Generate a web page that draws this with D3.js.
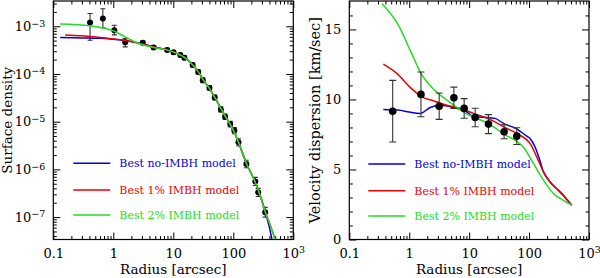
<!DOCTYPE html>
<html>
<head>
<meta charset="utf-8">
<script src="https://cdn.jsdelivr.net/npm/d3@7/dist/d3.min.js"></script>
<style>
  html, body { margin: 0; padding: 0; background: #fff; }
  svg { display: block; font-family: "DejaVu Serif", serif; }
</style>
</head>
<body>
<div id="chart"></div>
<script>
// surface density data (left panel)
const sdRadius = [0.41, 0.67, 1.04, 1.58, 3.1, 4.7, 7.9, 10.1, 13.1, 15.3, 21, 26, 31, 40, 49, 62, 73, 89, 104, 122, 165, 233, 260, 340];
const sdValue  = [1.2e-3, 1.46e-3, 8.3e-4, 4.6e-4, 4.5e-4, 3.6e-4, 3.2e-4, 2.85e-4, 2.5e-4, 2.2e-4, 1.54e-4, 1.1e-4, 7.4e-5, 5.1e-5, 3.2e-5, 1.8e-5, 1.27e-5, 8.9e-6, 6.5e-6, 3.7e-6, 1.29e-6, 5.6e-7, 3.3e-7, 1.26e-7];
const sdLow    = [5.1e-4, 9.3e-4, 6.6e-4, 3.7e-4, 4.1e-4, 3.3e-4, 2.95e-4, 2.6e-4, 2.3e-4, 2.0e-4, 1.4e-4, 1.0e-4, 6.6e-5, 4.6e-5, 2.85e-5, 1.6e-5, 1.12e-5, 7.8e-6, 5.6e-6, 3.1e-6, 1.08e-6, 4.6e-7, 2.7e-7, 1.0e-7];
const sdHigh   = [1.86e-3, 2.33e-3, 1.05e-3, 5.5e-4, 4.9e-4, 3.9e-4, 3.45e-4, 3.1e-4, 2.7e-4, 2.4e-4, 1.7e-4, 1.22e-4, 8.3e-5, 5.7e-5, 3.6e-5, 2.05e-5, 1.45e-5, 1.02e-5, 7.5e-6, 4.4e-6, 1.55e-6, 6.8e-7, 4.0e-7, 1.6e-7];

// surface density models
const sdNoImbhR = [0.13, 0.3, 0.61, 1.0, 1.69, 3.1, 4.7, 7.9, 10, 13, 16, 21, 26, 31, 40, 50, 62, 75, 90, 104, 120, 165, 230, 300, 340, 400, 450];
const sdNoImbhS = [5.8e-4, 5.7e-4, 5.6e-4, 5.35e-4, 5.0e-4, 4.3e-4, 3.7e-4, 3.2e-4, 2.9e-4, 2.5e-4, 2.15e-4, 1.55e-4, 1.12e-4, 7.8e-5, 5.0e-5, 3.1e-5, 1.9e-5, 1.25e-5, 8.5e-6, 6.0e-6, 3.9e-6, 1.35e-6, 5.5e-7, 2.2e-7, 1.3e-7, 6.0e-8, 3.0e-8];
const sdImbh1R = [0.157, 0.3, 0.61, 1.0, 1.69, 3.1, 4.7, 7.9, 10, 13, 16, 21, 26, 31, 40, 50, 62, 75, 90, 104, 120, 165, 230, 300, 340, 400, 450, 520];
const sdImbh1S = [6.6e-4, 6.3e-4, 5.8e-4, 5.4e-4, 5.0e-4, 4.2e-4, 3.7e-4, 3.2e-4, 2.9e-4, 2.5e-4, 2.15e-4, 1.55e-4, 1.12e-4, 7.8e-5, 5.0e-5, 3.1e-5, 1.9e-5, 1.25e-5, 8.5e-6, 6.0e-6, 3.9e-6, 1.35e-6, 5.5e-7, 2.2e-7, 1.3e-7, 7.5e-8, 5.0e-8, 2.8e-8];
const sdImbh2R = [0.13, 0.41, 1.0, 1.65, 2.7, 4.7, 7.9, 10, 13, 16, 21, 26, 31, 40, 50, 62, 75, 90, 104, 120, 165, 230, 300, 340, 400, 450, 520];
const sdImbh2S = [1.12e-3, 1.02e-3, 8.0e-4, 5.8e-4, 4.3e-4, 3.6e-4, 3.2e-4, 2.9e-4, 2.5e-4, 2.15e-4, 1.55e-4, 1.12e-4, 7.8e-5, 5.0e-5, 3.1e-5, 1.9e-5, 1.25e-5, 8.5e-6, 6.0e-6, 3.9e-6, 1.35e-6, 5.5e-7, 2.2e-7, 1.3e-7, 7.5e-8, 5.0e-8, 2.8e-8];

// velocity dispersion data (right panel)
const vdRadius = [0.53, 1.57, 3.16, 5.56, 8.25, 12.6, 21, 38.3, 62.3];
const vdValue  = [9.16, 10.36, 9.52, 10.12, 9.36, 8.71, 8.24, 7.69, 7.38];
const vdErr    = [2.2, 1.6, 0.94, 0.76, 0.7, 0.66, 0.68, 0.5, 0.6];

// velocity dispersion models
const vdNoImbhR = [0.37, 0.66, 1.0, 1.52, 2.24, 3.29, 5.5, 9.1, 11.8, 22.4, 27, 37.3, 62, 90, 104, 126, 148, 174, 224, 329, 479, 515];
const vdNoImbhV = [9.29, 9.24, 9.1, 9.0, 9.43, 9.59, 9.43, 9.11, 8.76, 8.69, 8.65, 8.29, 7.9, 7.4, 7.21, 6.61, 5.78, 4.83, 4.11, 3.4, 2.61, 2.45];
const vdImbh1R = [0.37, 0.62, 1.04, 1.63, 2.54, 4.25, 8.0, 11.8, 22.4, 42.5, 70.8, 104, 134, 174, 224, 329, 479, 515];
const vdImbh1V = [12.52, 11.86, 10.86, 10.19, 9.9, 9.59, 9.29, 9.0, 8.57, 7.93, 7.45, 6.86, 5.9, 4.83, 4.11, 3.4, 2.61, 2.45];
const vdImbh2R = [0.35, 0.66, 1.04, 1.63, 2.39, 4.25, 8.0, 22.4, 42.5, 58, 80, 118, 174, 254, 368, 515];
const vdImbh2V = [16.85, 15.3, 13.5, 11.74, 10.86, 9.95, 9.11, 8.2, 7.4, 7.1, 6.6, 5.43, 4.24, 3.29, 2.81, 2.45];

const legendLabels = ["Best no-IMBH model", "Best 1% IMBH model", "Best 2% IMBH model"];
const modelColors = ["#0000e0", "#ee0000", "#22dd22"];

const xDecades = [0.1, 1, 10, 100, 1000];
const sdDecades = [1e-7, 1e-6, 1e-5, 1e-4, 1e-3];
const vdMajor = [0, 5, 10, 15];

const W = 600, H = 278;
const svg = d3.select("#chart").append("svg")
  .attr("width", W).attr("height", H);
svg.append("rect").attr("width", W).attr("height", H).attr("fill", "#fff");

function logMinors(lo, hi) {
  const out = [];
  for (let e = Math.floor(Math.log10(lo)); e <= Math.ceil(Math.log10(hi)); e++) {
    for (let m = 2; m <= 9; m++) {
      const v = m * Math.pow(10, e);
      if (v > lo && v < hi) out.push(v);
    }
  }
  return out;
}

// write "10" with a raised exponent
function powerLabel(sel, exp) {
  sel.text(null);
  sel.append("tspan").text("10");
  sel.append("tspan").attr("dy", "-0.45em").attr("font-size", "9.5px").text(exp);
}

function drawPanel(cfg) {
  const g = svg.append("g").attr("transform", `translate(${cfg.left},${cfg.top})`);
  const w = cfg.width, h = cfg.height;
  const x = d3.scaleLog().domain([0.1, 1000]).range([0, w]);
  const y = cfg.y.range([h, 0]);

  const clipId = cfg.id + "-clip";
  g.append("clipPath").attr("id", clipId)
    .append("rect").attr("width", w).attr("height", h);

  const clean = sel => sel.call(s => s.select(".domain").remove())
    .selectAll("line").attr("stroke", "#000").attr("stroke-width", 1);

  // x ticks (bottom with labels, top without)
  const xb = g.append("g").attr("transform", `translate(0,${h})`)
    .call(d3.axisBottom(x).tickValues(xDecades).tickSize(-7).tickPadding(9)
      .tickFormat(d => d >= 1000 ? "" : d3.format("~g")(d)));
  clean(xb);
  xb.selectAll("text").attr("font-size", "13px").attr("font-family", "DejaVu Serif, serif").attr("fill", "#000")
    .each(function(d) { if (d >= 1000) powerLabel(d3.select(this), "3"); });
  clean(g.append("g").attr("transform", `translate(0,${h})`)
    .call(d3.axisBottom(x).tickValues(logMinors(0.1, 1000)).tickSize(-3.5).tickFormat("")));
  clean(g.append("g")
    .call(d3.axisTop(x).tickValues(xDecades).tickSize(-7).tickFormat("")));
  clean(g.append("g")
    .call(d3.axisTop(x).tickValues(logMinors(0.1, 1000)).tickSize(-3.5).tickFormat("")));

  // y ticks (left with labels, right without)
  const yl = g.append("g")
    .call(d3.axisLeft(y).tickValues(cfg.yMajor).tickSize(-7).tickPadding(8)
      .tickFormat(cfg.yFormat || d3.format("d")));
  clean(yl);
  yl.selectAll("text").attr("font-size", "13px").attr("font-family", "DejaVu Serif, serif").attr("fill", "#000")
    .each(function(d) {
      if (cfg.yPower) powerLabel(d3.select(this), "\u2212" + String(-Math.round(Math.log10(d))));
    });
  clean(g.append("g")
    .call(d3.axisLeft(y).tickValues(cfg.yMinor).tickSize(-3.5).tickFormat("")));
  clean(g.append("g").attr("transform", `translate(${w},0)`)
    .call(d3.axisRight(y).tickValues(cfg.yMajor).tickSize(-7).tickFormat("")));
  clean(g.append("g").attr("transform", `translate(${w},0)`)
    .call(d3.axisRight(y).tickValues(cfg.yMinor).tickSize(-3.5).tickFormat("")));

  const plot = g.append("g").attr("clip-path", `url(#${clipId})`);

  const line = d3.line().curve(d3.curveMonotoneX)
    .x(d => x(d[0])).y(d => y(d[1]));

  const drawCurves = () => cfg.models.forEach((m, i) => {
    plot.append("path")
      .datum(d3.zip(m[0], m[1]))
      .attr("fill", "none")
      .attr("stroke", modelColors[i])
      .attr("stroke-width", 1.5)
      .attr("d", line);
  });

  const drawPoints = () => {
    const pts = plot.append("g").selectAll("g")
      .data(cfg.points).join("g");
    pts.append("line")
      .attr("x1", d => x(d.r)).attr("x2", d => x(d.r))
      .attr("y1", d => y(d.lo)).attr("y2", d => y(d.hi))
      .attr("stroke", "#333").attr("stroke-width", 1.1);
    [d => d.lo, d => d.hi].forEach(acc => {
      pts.append("line")
        .attr("x1", d => x(d.r) - cfg.cap).attr("x2", d => x(d.r) + cfg.cap)
        .attr("y1", d => y(acc(d))).attr("y2", d => y(acc(d)))
        .attr("stroke", "#333").attr("stroke-width", 1.1);
    });
    pts.append("circle")
      .attr("cx", d => x(d.r)).attr("cy", d => y(d.v))
      .attr("r", cfg.pointR).attr("fill", "#000");
  };

  if (cfg.curvesOnTop) { drawPoints(); drawCurves(); }
  else { drawCurves(); drawPoints(); }

  // frame
  g.append("rect").attr("width", w).attr("height", h)
    .attr("fill", "none").attr("stroke", "#000").attr("stroke-width", 1.2);

  // legend
  const lg = g.append("g");
  legendLabels.forEach((lab, i) => {
    const ly = cfg.legendY[i];
    lg.append("line")
      .attr("x1", cfg.legendX).attr("x2", cfg.legendX + 37)
      .attr("y1", ly).attr("y2", ly)
      .attr("stroke", modelColors[i]).attr("stroke-width", 1.5);
    lg.append("text")
      .attr("x", cfg.legendX + 46).attr("y", ly + 4)
      .attr("font-size", "11px").attr("font-family", "DejaVu Serif, serif")
      .attr("fill", modelColors[i])
      .text(lab);
  });

  // axis titles
  g.append("text")
    .attr("x", w / 2).attr("y", h + 34)
    .attr("text-anchor", "middle").attr("font-size", "13.5px")
    .text("Radius [arcsec]");
  g.append("text")
    .attr("transform", `translate(${cfg.yTitleX},${h / 2}) rotate(-90)`)
    .attr("text-anchor", "middle").attr("font-size", cfg.yTitleSize)
    .text(cfg.yTitle);
}

drawPanel({
  id: "sd",
  left: 53.3, top: 1, width: 240, height: 238.5,
  y: d3.scaleLog().domain([Math.pow(10, -7.47), Math.pow(10, -2.47)]),
  yMajor: sdDecades,
  yMinor: logMinors(Math.pow(10, -7.47), Math.pow(10, -2.47)),
  yPower: true,
  yFormat: d => "",
  yTitle: "Surface density",
  yTitleX: -41, yTitleSize: "13.5px",
  points: sdRadius.map((r, i) => ({ r, v: sdValue[i], lo: sdLow[i], hi: sdHigh[i] })),
  models: [[sdNoImbhR, sdNoImbhS], [sdImbh1R, sdImbh1S], [sdImbh2R, sdImbh2S]],
  pointR: 3, cap: 2.5,
  curvesOnTop: true,
  legendX: 20, legendY: [162.3, 189, 214]
});

drawPanel({
  id: "vd",
  left: 349.3, top: 1, width: 239.7, height: 238.5,
  y: d3.scaleLinear().domain([0, 17.03]),
  yMajor: vdMajor,
  yMinor: d3.range(1, 17).filter(v => v % 5 !== 0),
  yPower: false,
  yTitle: "Velocity dispersion [km/sec]",
  yTitleX: -29.5, yTitleSize: "14.5px",
  points: vdRadius.map((r, i) => ({ r, v: vdValue[i], lo: vdValue[i] - vdErr[i], hi: vdValue[i] + vdErr[i] })),
  models: [[vdNoImbhR, vdNoImbhV], [vdImbh1R, vdImbh1V], [vdImbh2R, vdImbh2V]],
  pointR: 3.8, cap: 3.5,
  curvesOnTop: false,
  legendX: 19, legendY: [163, 189.7, 215]
});
</script>
</body>
</html>
